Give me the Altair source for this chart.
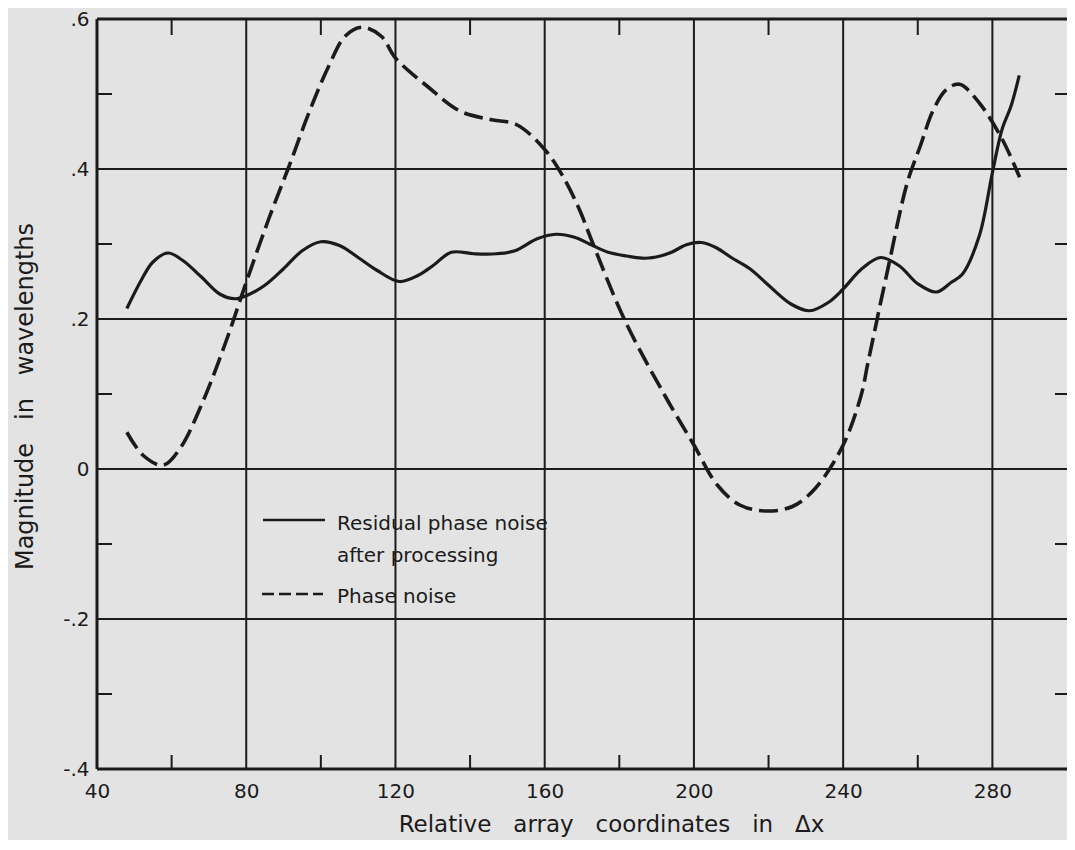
import json
import altair as alt
import pandas as pd

# ---------------- data ----------------
res_x = [48, 52, 55, 59, 63, 68, 73, 77, 80, 85, 90, 95, 100, 105, 110, 115, 121, 126,
         130, 135, 141, 147, 152, 158, 163, 168, 172, 177, 182, 187, 191, 194, 198, 202,
         206, 210, 215, 220, 226, 231, 236, 240, 245, 250, 255, 260, 265, 269, 272,
         276.5, 280, 282.6, 285, 287.2]
res_y = [0.214, 0.253, 0.276, 0.288, 0.278, 0.256, 0.233, 0.227, 0.231, 0.245, 0.267,
         0.291, 0.303, 0.298, 0.282, 0.265, 0.250, 0.258, 0.271, 0.289, 0.287, 0.287,
         0.291, 0.307, 0.313, 0.309, 0.300, 0.289, 0.284, 0.281, 0.284, 0.289, 0.299,
         0.302, 0.295, 0.282, 0.267, 0.245, 0.220, 0.211, 0.222, 0.240, 0.267, 0.282,
         0.271, 0.247, 0.236, 0.249, 0.260, 0.311, 0.395, 0.453, 0.484, 0.525]

ph_x = [48, 52.4, 57.7, 62.2, 68.3, 74.5, 80, 86, 91.5, 96.8, 102.1, 106.5, 111, 116.2,
        120, 128.6, 137.4, 145.4, 152.5, 160, 164.8, 169.3, 172.8, 181.5, 192.2, 200,
        206.2, 212.3, 219.3, 226.4, 232.5, 240, 244.8, 246.7, 252, 257.2, 260.7, 264.2,
        267.7, 271.2, 276.5, 282.6, 287.3]
ph_y = [0.049, 0.018, 0.005, 0.027, 0.089, 0.169, 0.249, 0.333, 0.404, 0.475, 0.537,
        0.577, 0.589, 0.577, 0.548, 0.510, 0.477, 0.466, 0.459, 0.426, 0.391, 0.346,
        0.302, 0.198, 0.098, 0.032, -0.021, -0.048, -0.056, -0.050, -0.026, 0.032,
        0.098, 0.143, 0.267, 0.382, 0.431, 0.479, 0.506, 0.513, 0.488, 0.440, 0.389]

x_tick_values = [40, 80, 120, 160, 200, 240, 280]
x_tick_labels = ["40", "80", "120", "160", "200", "240", "280"]
y_tick_values = [-0.4, -0.2, 0, 0.2, 0.4, 0.6]
y_tick_labels = ["-.4", "-.2", "0", ".2", ".4", ".6"]

x_grid = [80, 120, 160, 200, 240, 280]
y_grid = [-0.2, 0, 0.2, 0.4]
x_border = [40]
y_border = [-0.4, 0.6]
x_minor = [60, 100, 140, 180, 220, 260]
y_minor = [-0.3, -0.1, 0.1, 0.3, 0.5]

legend_labels = ["Residual phase noise", "after processing", "Phase noise"]
SP = "\u00a0\u00a0\u00a0"
x_title = f"Relative{SP}array{SP}coordinates{SP}in{SP}\u0394x"
y_title = f"Magnitude{SP}in{SP}wavelengths"

# ---------------- styling ----------------
W, H = 970, 750
TOP = 11
BOTTOM = 71
INK = "#1b1b1b"
FONT = "DejaVu Sans"

xs = alt.Scale(domain=[40, 300], nice=False, zero=False)
ys = alt.Scale(domain=[-0.4, 0.6], nice=False, zero=False)


def lab_expr(values, labels):
    return f"{json.dumps(labels)}[indexof({json.dumps(values)}, datum.value)]"


x_axis = alt.Axis(values=x_tick_values, labelExpr=lab_expr(x_tick_values, x_tick_labels),
                  grid=False, ticks=False, domain=False, labelFontSize=20,
                  labelColor=INK, labelFont=FONT, labelPadding=12, labelFlush=False,
                  labelOverlap=False,
                  title=x_title, titleFont=FONT, titleFontSize=23, titleFontWeight="normal",
                  titleColor=INK, titleX=514, titleY=55, titleAlign="center",
                  titleBaseline="middle", titleAnchor="start")
y_axis = alt.Axis(values=y_tick_values, labelExpr=lab_expr(y_tick_values, y_tick_labels),
                  grid=False, ticks=False, domain=False, labelFontSize=20,
                  labelColor=INK, labelFont=FONT, labelPadding=8, labelFlush=False,
                  labelOverlap=False, labelAlign="right", labelBaseline="middle",
                  title=y_title, titleFont=FONT, titleFontSize=24, titleFontWeight="normal",
                  titleColor=INK, titleX=-72, titleY=396 - 8 - TOP, titleAngle=270,
                  titleAlign="center", titleBaseline="middle", titleAnchor="start")


def X(field="x"):
    return alt.X(f"{field}:Q", scale=xs, axis=x_axis)


def Y(field="y"):
    return alt.Y(f"{field}:Q", scale=ys, axis=y_axis)


vgrid = alt.Chart(pd.DataFrame({"x": x_grid})).mark_rule(color=INK, strokeWidth=2).encode(x=X())
hgrid = alt.Chart(pd.DataFrame({"y": y_grid})).mark_rule(color=INK, strokeWidth=2).encode(y=Y())
hborder = alt.Chart(pd.DataFrame({"y": y_border})).mark_rule(color=INK, strokeWidth=3).encode(y=Y())
vborder = alt.Chart(pd.DataFrame({"x": x_border})).mark_rule(color=INK, strokeWidth=3).encode(x=X())

xm = pd.DataFrame({"x": x_minor})
ym = pd.DataFrame({"y": y_minor})
top_ticks = alt.Chart(xm).mark_rule(color=INK, strokeWidth=2).encode(
    x=X(), y=alt.value(0), y2=alt.value(16))
bot_ticks = alt.Chart(xm).mark_rule(color=INK, strokeWidth=2).encode(
    x=X(), y=alt.value(H), y2=alt.value(H - 14))
left_ticks = alt.Chart(ym).mark_rule(color=INK, strokeWidth=2).encode(
    y=Y(), x=alt.value(0), x2=alt.value(15))
right_ticks = alt.Chart(ym).mark_rule(color=INK, strokeWidth=2).encode(
    y=Y(), x=alt.value(W), x2=alt.value(W - 12))

res_df = pd.DataFrame({"x": res_x, "y": res_y})
ph_df = pd.DataFrame({"x": ph_x, "y": ph_y})
res_line = alt.Chart(res_df).mark_line(color=INK, strokeWidth=3.2,
                                       interpolate="catmull-rom").encode(x=X(), y=Y())
ph_line = alt.Chart(ph_df).mark_line(color=INK, strokeWidth=3.6, interpolate="catmull-rom",
                                     strokeDash=[19, 7]).encode(x=X(), y=Y())

one = pd.DataFrame({"k": [0]})
leg_solid = alt.Chart(one).mark_rule(color=INK, strokeWidth=2.5).encode(
    x=alt.value(166), x2=alt.value(228), y=alt.value(520 - 8 - TOP))
leg_dash = alt.Chart(one).mark_rule(color=INK, strokeWidth=2.5, strokeDash=[12, 5]).encode(
    x=alt.value(165), x2=alt.value(226), y=alt.value(594 - 8 - TOP))
leg_text = []
for lbl, yy in zip(legend_labels, [530, 562, 603]):
    leg_text.append(
        alt.Chart(one).mark_text(text=lbl, font=FONT, fontSize=20, color=INK, align="left",
                                 baseline="alphabetic").encode(x=alt.value(240),
                                                               y=alt.value(yy - 8 - TOP)))

chart = alt.layer(vgrid, hgrid, hborder, vborder, top_ticks, bot_ticks, left_ticks,
                  right_ticks, res_line, ph_line, leg_solid, leg_dash, *leg_text).properties(
    width=W, height=H,
    autosize=alt.AutoSizeParams(type="none"),
    padding={"left": 89, "top": TOP, "right": 0, "bottom": BOTTOM},
    background="#e3e3e3",
).configure_view(stroke=None)

chart.save("out.html", embed_options={"renderer": "svg", "actions": False})
